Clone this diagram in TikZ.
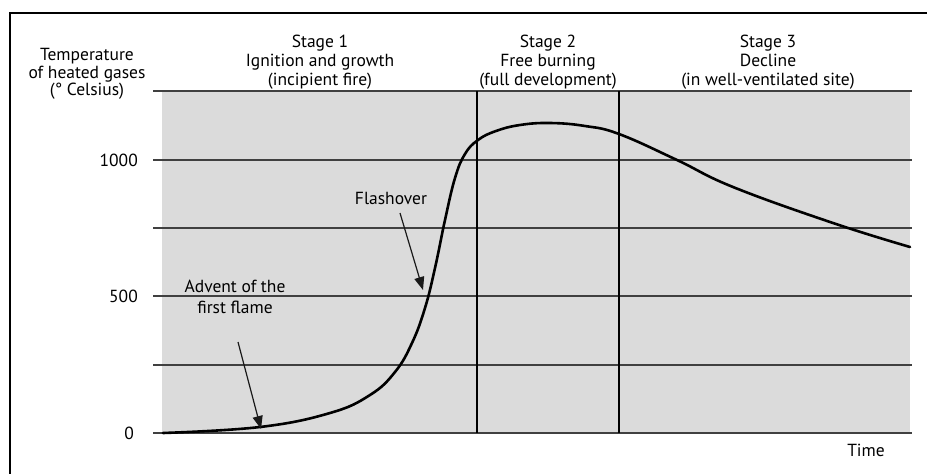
\documentclass[tikz,border=0pt]{standalone}
\usepackage{fontspec}
\setmainfont{PT Sans}
\usetikzlibrary{arrows.meta}
\begin{document}
\begin{tikzpicture}[x=1pt,y=-1pt,
  lbl/.style={inner sep=0pt,font=\fontsize{17.5}{19}\selectfont,align=center,text=black},
  grid/.style={draw=black!75,line width=1.2pt},
  vline/.style={draw=black,line width=1.6pt},
  curve/.style={draw=black,line width=2.6pt,line cap=round},
  pointer/.style={draw=black!90,line width=1.2pt,-{Triangle[length=13pt,width=10pt]}}]
\useasboundingbox (0,0) rectangle (927,474);
\fill[white] (0,0) rectangle (927,474);
\draw[line width=1.8pt] (10,480) -- (10,13) -- (935,13);
\fill[black!14] (162,91) rectangle (910,433);
\foreach \yy in {91,160,228,296,365,433} \draw[grid] (153,\yy) -- (912,\yy);
\draw[vline] (477,91) -- (477,433);
\draw[vline] (619,91) -- (619,433);
\draw[curve] plot[smooth,tension=0.7] coordinates {(163,433) (260,427) (330,413) (370,395) (395,372) (412,343) (425,308) (435,268) (445,220) (455,178) (465,154) (478,140) (496,131) (520,125) (550,123) (585,126) (619,134) (677,160) (733,187) (833,223) (910,247)};
\node[lbl,font=\fontsize{17.5}{17.5}\selectfont] (ytitle) at (87,74) {Temperature\\of heated gases\\(° Celsius)};
\node[lbl,anchor=east] (y1000) at (138,160) {1000};
\node[lbl,anchor=east] (y500) at (138,296) {500};
\node[lbl,anchor=east] (y0) at (134,433) {0};
\node[lbl] (s1) at (320,62) {Stage 1\\Ignition and growth\\(incipient fire)};
\node[lbl] (s2) at (548,62) {Stage 2\\Free burning\\(full development)};
\node[lbl] (s3) at (768,62) {Stage 3\\Decline\\(in well-ventilated site)};
\node[lbl] (time) at (866,450) {Time};
\node[lbl,font=\fontsize{17.5}{21}\selectfont] (advent) at (235,297) {Advent of the\\first flame};
\node[lbl] (flash) at (391,198) {Flashover};
\coordinate (adtip) at (261,429);
\coordinate (fltip) at (423,290);
\draw[pointer] (238,342) -- (adtip);
\draw[pointer] (400,213) -- (fltip);
\end{tikzpicture}
\end{document}
